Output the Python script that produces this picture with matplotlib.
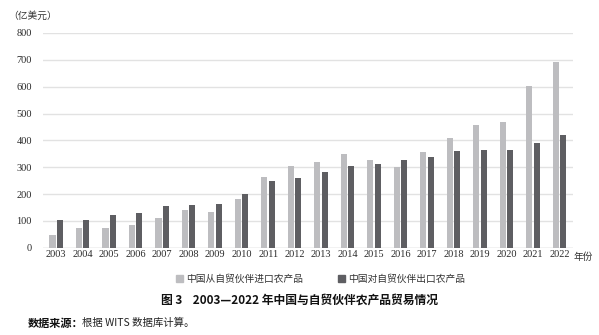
import numpy as np
import matplotlib
matplotlib.use("Agg")
import matplotlib.pyplot as plt
from matplotlib.patches import Patch

plt.rcParams['font.family'] = ['Noto Sans CJK SC', 'DejaVu Sans']

years = [str(y) for y in range(2003, 2023)]
imports = [48, 75, 75, 86, 112, 139, 134, 183, 263, 304,
           319, 348, 326, 302, 355, 409, 457, 469, 604, 692]
exports = [103, 103, 122, 129, 155, 158, 162, 201, 247, 258,
           282, 306, 311, 328, 337, 359, 365, 363, 391, 421]
import_label = '中国从自贸伙伴进口农产品'
export_label = '中国对自贸伙伴出口农产品'

c_imp = '#bdbdc0'
c_exp = '#5e5e62'

fig = plt.figure(figsize=(5.99, 3.35), dpi=100)
ax = fig.add_axes([0.0718, 0.2606, 0.8843, 0.6409])

x = np.arange(len(years))
w = 0.23
ax.bar(x - 0.14, imports, w, color=c_imp, zorder=3)
ax.bar(x + 0.14, exports, w, color=c_exp, zorder=3)

ax.set_xlim(-0.5, 19.5)
ax.set_ylim(0, 800)
ax.set_yticks(range(0, 801, 100))
ax.set_xticks(x)
ax.set_xticklabels(years)
ax.grid(axis='y', color='#e2e2e2', linewidth=1.0, zorder=0)
ax.tick_params(axis='y', length=0, pad=8)
ax.tick_params(axis='x', length=0, pad=2)
plt.setp(ax.get_xticklabels() + ax.get_yticklabels(),
         family='Liberation Serif', fontsize=7.5, color='#2a2a2a')
for s in ax.spines.values():
    s.set_visible(False)
ax.axhline(0, color='#dadada', linewidth=1.0, zorder=2)

fig.text(0.013, 0.953, '（亿美元）', fontsize=7, color='#333333', va='center')
fig.text(0.957, 0.232, '年份', fontsize=7, color='#333333', va='center')

handles = [Patch(color=c_imp), Patch(color=c_exp)]
fig.legend(handles, [import_label, export_label], loc='center',
           bbox_to_anchor=(0.535, 0.167), ncol=2, frameon=False, fontsize=7,
           handlelength=0.7, handleheight=0.7, handletextpad=0.3,
           columnspacing=3.6, labelcolor='#333333')

fig.text(0.5, 0.105, '图 3    2003—2022 年中国与自贸伙伴农产品贸易情况',
         fontsize=8.5, fontweight='bold', ha='center', va='center', color='#111111')
fig.text(0.047, 0.035, '数据来源：', fontsize=8, fontweight='bold',
         va='center', color='#111111')
fig.text(0.137, 0.035, '根据 WITS 数据库计算。', fontsize=7.5,
         va='center', color='#222222')

fig.savefig('out.png', dpi=100)
